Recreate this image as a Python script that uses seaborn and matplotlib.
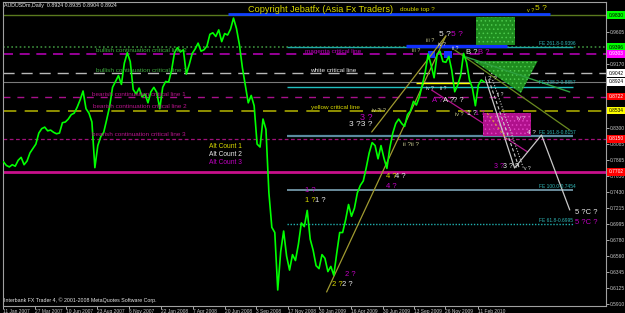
import numpy as np
import pandas as pd
import matplotlib
matplotlib.use("Agg")
import matplotlib.pyplot as plt
import matplotlib.transforms as mtransforms
import matplotlib.dates as mdates
from matplotlib.patches import Rectangle, Polygon
import seaborn as sns

# ---------------- data ----------------
close = [
    # 2007
    0.7840, 0.7790, 0.7770,
    0.7800, 0.7780, 0.7860, 0.7900,
    0.7800, 0.7850, 0.7960, 0.8020, 0.8080,
    0.8230, 0.8290, 0.8310, 0.8260,
    0.8270, 0.8240, 0.8220, 0.8230,
    0.8370, 0.8380, 0.8420, 0.8480, 0.8500,
    0.8580, 0.8680, 0.8800, 0.8560,
    0.8500, 0.8380, 0.7760, 0.8060, 0.8180,
    0.8240, 0.8410, 0.8590, 0.8850,
    0.8930, 0.9010, 0.8890, 0.9180,
    0.9320, 0.9200, 0.8820, 0.8760, 0.8840,
    0.8720, 0.8760, 0.8640, 0.8790,
    # 2008
    0.8850, 0.8780, 0.8560, 0.8850,
    0.8930, 0.8920, 0.9080, 0.9320, 0.9390,
    0.9330, 0.9360, 0.9030, 0.9160,
    0.9310, 0.9370, 0.9450, 0.9340,
    0.9360, 0.9410, 0.9570, 0.9590, 0.9540,
    0.9630, 0.9470, 0.9580, 0.9560,
    0.9640, 0.9790, 0.9650, 0.9430,
    0.9120, 0.8880, 0.8640, 0.8740, 0.8600,
    0.8080, 0.8040, 0.8420, 0.8280,
    0.7420, 0.6950, 0.6880, 0.6100, 0.6620,
    0.6900, 0.6560, 0.6370, 0.6580,
    0.6500, 0.6720, 0.7010, 0.6960,
    # 2009
    0.7180, 0.6790, 0.6640, 0.6430, 0.6390,
    0.6580, 0.6530, 0.6350, 0.6420,
    0.6300, 0.6600, 0.6880, 0.6880,
    0.7050, 0.7260, 0.7100, 0.7210,
    0.7420, 0.7520, 0.7580, 0.7760, 0.7960,
    0.8100, 0.8060, 0.7880, 0.8060,
    0.7890, 0.7750, 0.8030, 0.8230, 0.8360,
    0.8420, 0.8360, 0.8320, 0.8480,
    0.8530, 0.8660, 0.8610, 0.8720,
    0.8880, 0.9060, 0.9300, 0.9150, 0.8980,
    0.9290, 0.9340, 0.9200, 0.9190,
    0.9270, 0.9080, 0.8790, 0.8880,
    # 2010
    0.9010, 0.9310, 0.9190, 0.8950, 0.8840,
    0.8600, 0.8880, 0.8950, 0.8924,
]
dates = pd.date_range("2007-01-12", periods=len(close), freq="W-FRI")

date_ticks = ["2007-01-11", "2007-03-27", "2007-06-10", "2007-08-23", "2007-11-06",
              "2008-01-22", "2008-04-07", "2008-06-20", "2008-09-03", "2008-11-17",
              "2009-01-30", "2009-04-16", "2009-06-30", "2009-09-13", "2009-11-26",
              "2010-02-11"]
date_labels = ["11 Jan 2007", "27 Mar 2007", "10 Jun 2007", "23 Aug 2007", "6 Nov 2007",
               "22 Jan 2008", "7 Apr 2008", "20 Jun 2008", "3 Sep 2008", "17 Nov 2008",
               "30 Jan 2009", "16 Apr 2009", "30 Jun 2009", "13 Sep 2009", "26 Nov 2009",
               "11 Feb 2010"]
price_ticks = [0.5910, 0.6125, 0.6345, 0.6560, 0.6780, 0.6995, 0.7215, 0.7430, 0.7650,
               0.7865, 0.8085, 0.8300, 0.8520, 0.8735, 0.8955, 0.9170, 0.9390, 0.9605, 0.9825]

# critical / reference price levels
lvl_top = 0.9830
lvl_fe2618 = 0.9396
lvl_magenta = 0.9303
lvl_white = 0.9042
lvl_last = 0.8924
lvl_fe2382 = 0.8857
lvl_bear1 = 0.8722
lvl_yellow = 0.8534
lvl_fe1618 = 0.8187
lvl_bear3 = 0.8150
lvl_pink = 0.7702
lvl_fe100 = 0.7454
lvl_fe618 = 0.6995

# ---------------- style ----------------
sns.set_theme(style="dark", rc={"axes.facecolor": "black", "figure.facecolor": "black",
                                "hatch.linewidth": 0.6})
plt.rcParams['font.family'] = ['Liberation Sans', 'DejaVu Sans']

fig = plt.figure(figsize=(6.25, 3.13), dpi=100, facecolor="black")
ax = fig.add_axes([3/625, 7/313, 603/625, 304/313])
ax.set_facecolor("black")

T = pd.Timestamp
x0, x1 = T("2007-01-11"), T("2010-12-12")
FE_START, FE_END = T("2008-11-14"), T("2010-09-24")

# full-width horizontal lines
hl = [
    (lvl_top, "#5A7A1E", "-", 1.0),
    (lvl_fe2618, "#3C8C3C", (0, (1, 1.5)), 1.2),
    (lvl_magenta, "#B000B0", (0, (6, 4)), 1.2),
    (lvl_white, "#B8B8B8", (0, (8, 5)), 1.0),
    (lvl_last, "#7A7A7A", "-", 0.8),
    (lvl_bear1, "#A8108A", (0, (5, 5)), 1.0),
    (lvl_yellow, "#A8A800", (0, (8, 5)), 1.2),
    (lvl_bear3, "#A0107A", (0, (3, 2)), 0.9),
    (lvl_pink, "#C8108C", "-", 2.0),
]
for y, c, ls, lw in hl:
    ax.hlines(y, x0, x1, colors=c, linestyles=ls, linewidth=lw, zorder=1)

# Fibonacci expansion segments
fe = [
    (lvl_fe2618, "#20A8A8", "-", 1.0, "FE 261.8-0.9396"),
    (lvl_fe2382, "#20C0C0", "-", 1.0, "FE 238.2-0.8857"),
    (lvl_fe1618, "#5A8CA0", "-", 1.6, "FE 161.8-0.8157"),
    (lvl_fe100, "#6A8C9C", "-", 1.4, "FE 100.0-0.7454"),
    (lvl_fe618, "#20B0B0", (0, (1, 1.2)), 1.0, "FE 61.8-0.6995"),
]
for y, c, ls, lw, lab in fe:
    ax.hlines(y, FE_START, FE_END, colors=c, linestyles=ls, linewidth=lw, zorder=1.1)
    ax.text(T("2010-07-05"), y + 0.0020, lab, color="#30B8B8", fontsize=3.5,
            va="bottom", ha="left", zorder=4)

# top blue lines
ax.hlines(0.9843, T("2008-06-28"), T("2010-08-01"), colors="#1040FF", linewidth=2.0, zorder=1.2)
ax.hlines(0.9411, T("2009-08-24"), T("2010-04-21"), colors="#1030FF", linewidth=2.4, zorder=1.2)
ax.hlines(0.8910, T("2009-09-16"), T("2010-01-23"), colors="#FFFF00", linewidth=1.0, zorder=2.5)

# boxes / shapes
ax.add_patch(Rectangle((T("2010-02-06"), 0.9425), T("2010-05-09") - T("2010-02-06"), 0.9805 - 0.9425,
                       facecolor="#1E8C1E", edgecolor="#4CC84C", hatch="....", lw=0, zorder=1.5))
ax.add_patch(Rectangle((T("2010-02-23"), 0.8190), T("2010-06-16") - T("2010-02-23"), 0.8502 - 0.8190,
                       facecolor="#B0108C", edgecolor="#E040C0", hatch="....", lw=0, zorder=1.5))
for a, b in [("2009-10-15", "2009-11-01"), ("2009-11-22", "2009-12-11")]:
    ax.add_patch(Rectangle((T(a), 0.9248), T(b) - T(a), 0.9343 - 0.9248,
                           facecolor="#1030FF", lw=0, zorder=1.6))
tri = [(mdates.date2num(T("2010-02-01")), 0.9208), (mdates.date2num(T("2010-07-03")), 0.9208),
       (mdates.date2num(T("2010-05-24")), 0.8773)]
ax.add_patch(Polygon(tri, closed=True, facecolor="#1E8C1E", edgecolor="#4CC84C",
                     hatch="....", lw=0, zorder=1.5))

# diagonal wave lines
diag = [
    (["2009-02-17", "2009-11-27"], [0.6073, 0.9547], "#A09A30", "-", 0.9),
    (["2009-06-04", "2009-11-27"], [0.8244, 0.9547], "#A09A30", "-", 0.9),
    (["2009-12-18", "2010-09-17"], [0.9357, 0.8271], "#6A8A20", "-", 0.9),
    (["2010-01-14", "2010-09-17"], [0.9262, 0.8787], "#2EA040", "-", 1.0),
    (["2009-10-24", "2010-06-09"], [0.8814, 0.7973], "#B0148C", "-", 0.9),
    (["2010-03-02", "2010-05-09", "2010-07-12", "2010-09-17"], [0.8950, 0.7756, 0.8203, 0.7186],
     "#C8C8C8", "-", 0.9),
    (["2010-03-09", "2010-05-20"], [0.8950, 0.7756], "#C8C8C8", (0, (3, 2)), 0.8),
    (["2010-03-18", "2010-05-30"], [0.8950, 0.7756], "#C8C8C8", (0, (1, 1.5)), 0.8),
    (["2010-03-05", "2010-04-20"], [0.8500, 0.8150], "#D8A030", (0, (2, 2)), 0.8),
]
for xs, ys, c, ls, lw in diag:
    ax.plot(pd.to_datetime(xs), ys, color=c, ls=ls, lw=lw, zorder=2)

# price line
df = pd.DataFrame({"date": dates, "price": close})
sns.lineplot(data=df, x="date", y="price", ax=ax, color="#00FF00", lw=1.2, zorder=3)

ax.set_xlim(x0, x1)
ax.set_ylim(0.58829, 1.00081)
ax.set_xlabel("")
ax.set_ylabel("")
ax.grid(False)

ax.yaxis.tick_right()
ax.set_yticks(price_ticks)
ax.set_yticklabels([f"{p:.4f}" for p in price_ticks])
ax.tick_params(axis="y", colors="#C8C8C8", labelsize=3.5, length=2, width=0.6, pad=1.0,
               direction="out", right=True, left=False)
ax.set_xticks(pd.to_datetime(date_ticks))
ax.set_xticklabels(date_labels, ha="left")
ax.tick_params(axis="x", colors="#C8C8C8", labelsize=3.5, length=2, width=0.6, pad=0.5,
               direction="out", bottom=True)
for s in ax.spines.values():
    s.set_color("#A0A0A0")
    s.set_linewidth(0.8)

# right side price boxes
bt = mtransforms.blended_transform_factory(ax.transAxes, ax.transData)
boxes = [
    (lvl_top, "#00FF00", "black"), (lvl_fe2618, "#00FF00", "black"),
    (lvl_magenta, "#FF00FF", "white"), (lvl_white, "#FFFFFF", "black"),
    (lvl_last, "#FFFFFF", "black"), (lvl_bear1, "#FF0000", "white"),
    (lvl_yellow, "#FFFF00", "black"), (lvl_bear3, "#FF0000", "white"),
    (lvl_pink, "#FF0000", "white"),
]
for y, fc, tc in boxes:
    ax.text(1.004, y, f"{y:.4f}", transform=bt, fontsize=3.5, color=tc, ha="left", va="center",
            bbox=dict(boxstyle="square,pad=0.25", fc=fc, ec="none"), clip_on=False, zorder=6)

# texts (positions in axes fraction derived from layout)
def P(x, y):
    return ((x - 3) / 603, (306 - y) / 304)

WHITE, YEL, MAG, OLV, GRN, PNK = "#E8E8E8", "#D8D800", "#C000C0", "#C8C890", "#3CA83C", "#B8148C"
texts = [
    (4, 5, "AUDUSDm,Daily  0.8924 0.8935 0.8904 0.8924", WHITE, 3.8),
    (4, 300, "Interbank FX Trader 4, \u00a9 2001-2008 MetaQuotes Software Corp.", WHITE, 3.8),
    (248, 10, "Copyright Jebatfx (Asia Fx Traders)", YEL, 6.6),
    (400, 10, "double top ?", YEL, 4.6),
    (527, 10, "v ?", YEL, 4.0), (535, 9, "5 ?", YEL, 6.0),
    (96, 50, "bullish continuation critical line 2", GRN, 4.6),
    (96, 71, "bullish continuation critical line 1", GRN, 4.6),
    (92, 94, "bearish continuation critical line 1", PNK, 4.6),
    (93, 106, "bearish continuation critical line 2", PNK, 4.6),
    (92, 135, "bearish continuation critical line 3", PNK, 4.6),
    (305, 51, "magenta critical line", MAG, 4.6),
    (310, 71, "white critical line", WHITE, 4.6),
    (311, 107, "yellow critical line", YEL, 4.6),
    (209, 146, "Alt Count 1", YEL, 4.8),
    (209, 154, "Alt Count 2", WHITE, 4.8),
    (209, 162, "Alt Count 3", MAG, 4.8),
    # wave labels
    (412, 51, "iii ?", OLV, 4.0), (426, 41, "iii ?", OLV, 4.0),
    (439, 35, "5 ?", WHITE, 6.0), (451, 35, "5 ?", MAG, 6.0),
    (438, 45, "iv ?", WHITE, 3.6), (452, 49, "ii ?", WHITE, 3.6),
    (466, 52, "B ?", WHITE, 5.5), (478, 52, "B ?", MAG, 5.5),
    (485, 79, "i 2 ?", WHITE, 4.6),
    (426, 88, "iv ?", WHITE, 3.6), (440, 89, "ii ?", WHITE, 3.6),
    (432, 101, "A ?", MAG, 5.5), (443, 101, "A ?", WHITE, 5.5), (453, 101, "? ?", WHITE, 5.5),
    (455, 115, "iv ?", OLV, 4.0), (467, 113, "1 ?", WHITE, 5.0), (475, 113, "1 ?", MAG, 5.0),
    (497, 94, "ii ?", WHITE, 3.6), (517, 118, "iv ?", WHITE, 3.6), (527, 133, "4 ?", WHITE, 4.6),
    (494, 167, "3 ?", MAG, 5.0), (503, 167, "3 ? ?", WHITE, 5.0), (524, 168, "v ?", WHITE, 3.6),
    (360, 117, "3 ?", MAG, 6.5), (349, 125, "3 ?3 ?", WHITE, 6.0),
    (403, 144, "ii ?ii ?", OLV, 4.6), (372, 110, "iv ?i ?", OLV, 3.8),
    (386, 177, "4 ?", YEL, 5.5), (395, 177, "4 ?", WHITE, 5.5), (386, 187, "4 ?", MAG, 5.5),
    (305, 190, "1 ?", MAG, 5.5), (305, 200, "1 ?", YEL, 5.5), (315, 200, "1 ?", WHITE, 5.5),
    (345, 274, "2 ?", MAG, 5.5), (332, 284, "2 ?", YEL, 5.5), (342, 284, "2 ?", WHITE, 5.5),
    (575, 212, "5 ?C ?", WHITE, 5.5), (575, 223, "5 ?C ?", MAG, 5.5),
]
for x, y, s, c, fs in texts:
    ax.text(*P(x, y), s, transform=ax.transAxes, color=c, fontsize=fs, ha="left", va="center",
            zorder=5)

fig.savefig("out.png", dpi=100, facecolor="black")
